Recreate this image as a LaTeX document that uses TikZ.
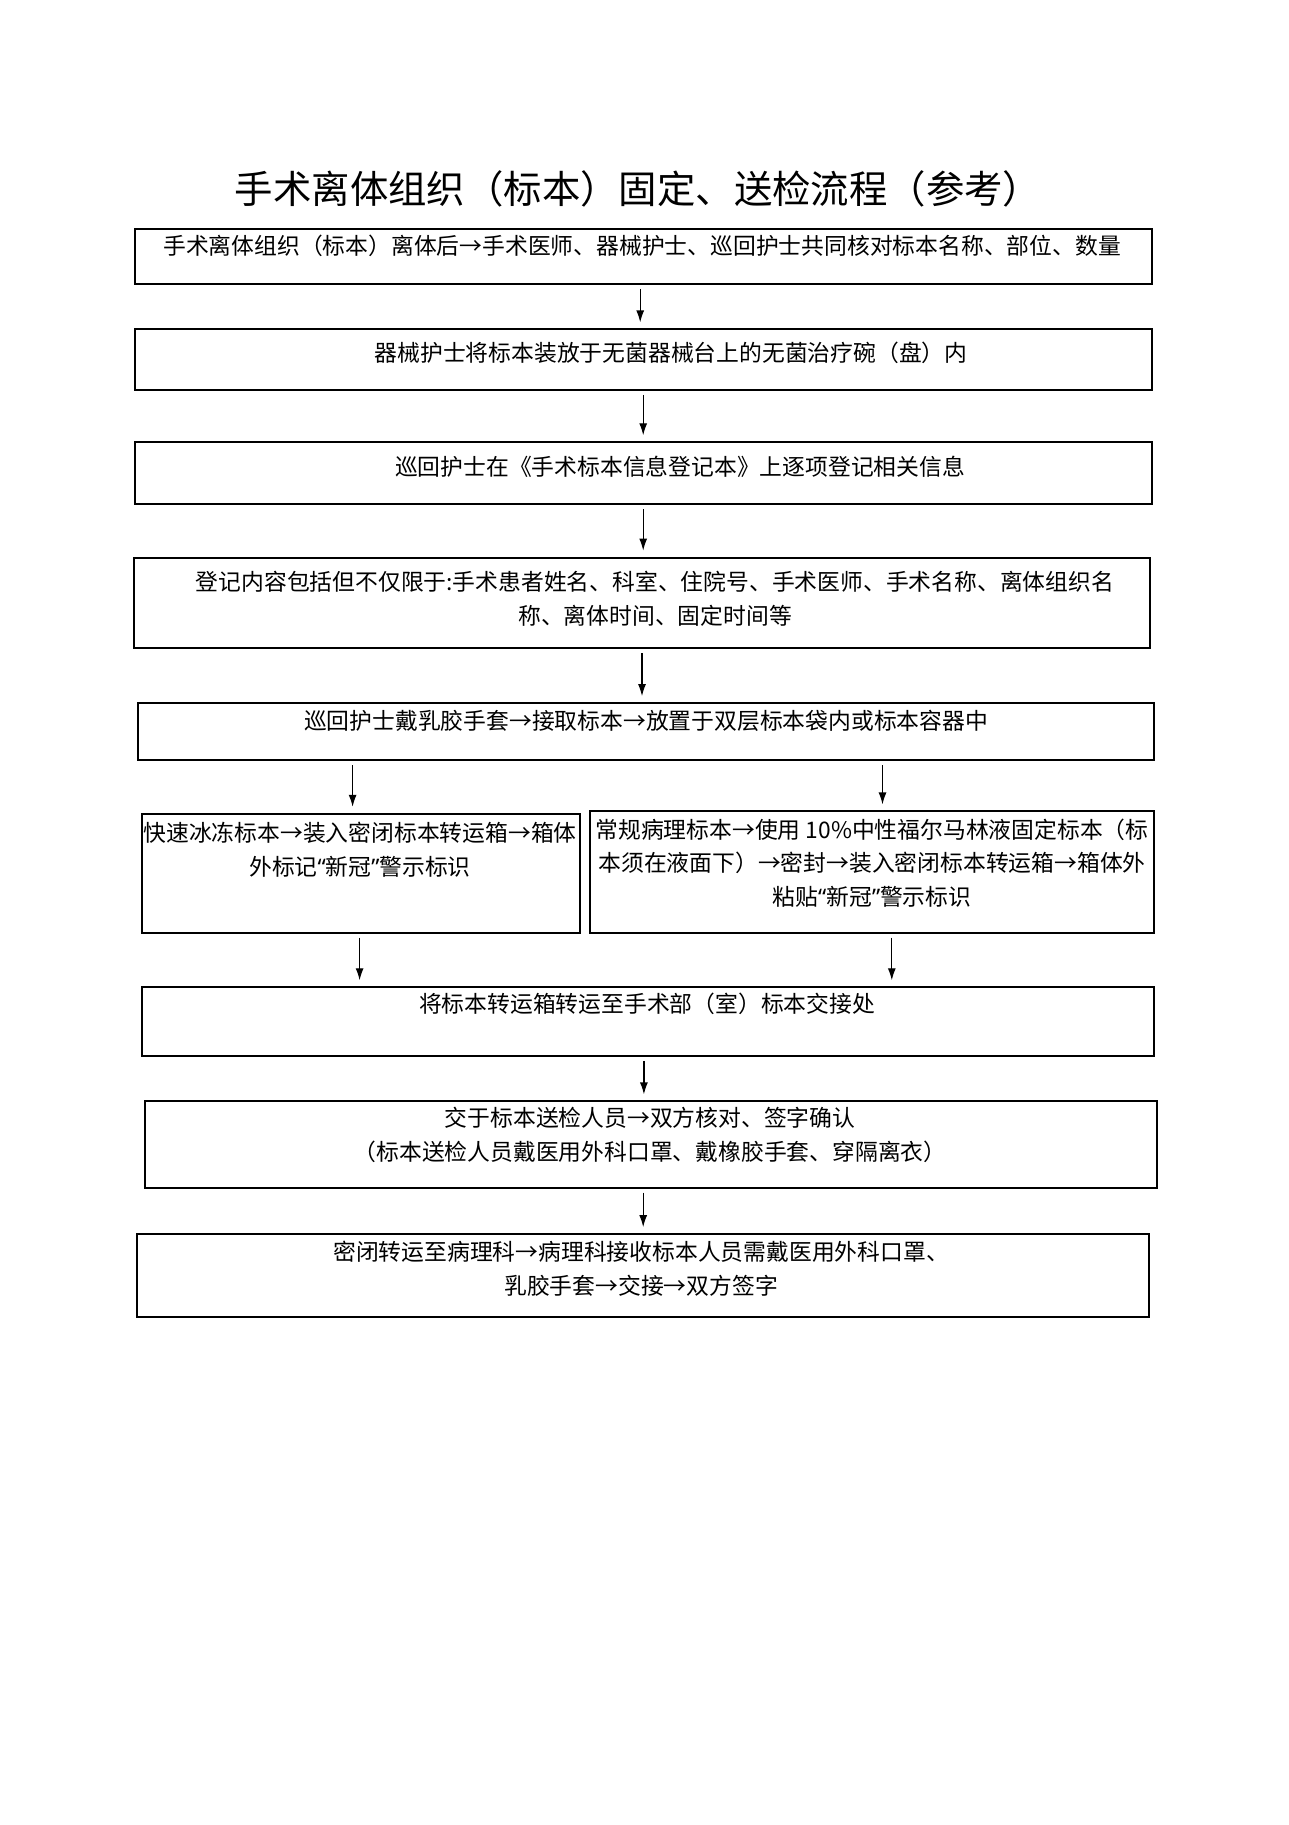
\documentclass[tikz,border=0pt]{standalone}
\usepackage{fontspec}
\setmainfont{Noto Sans CJK SC}
\newfontfamily\latinfont{Noto Sans}
\newcommand\quoted[1]{{\latinfont “}#1{\latinfont ”}}
\usetikzlibrary{arrows.meta,positioning}

\begin{document}
\begin{tikzpicture}[x=0.5pt,y=-0.5pt,
    box/.style={draw,line width=1pt,inner sep=0pt,anchor=north west},
    txt/.style={align=center,inner sep=0pt,font=\fontsize{11.4}{16.9}\selectfont},
    arr/.style={-{Latex[length=6pt,width=4pt]},line width=0.6pt,shorten <=2pt,shorten >=3pt}]
    \fill[white] (0,0) rectangle (1289,1825);
    \useasboundingbox (0,0) rectangle (1289,1825);

    % title
    \node[inner sep=0pt,font=\fontsize{19.2}{22}\selectfont] (title) at (638,189) {手术离体组织（标本）固定、送检流程（参考）};

    % boxes
    \node[box,minimum width=508.3pt,minimum height=27.35pt] (b1) at (133.9,228.2) {};
    \node[box,minimum width=508.3pt,minimum height=30.25pt] (b2) at (133.9,328.4) {};
    \node[box,minimum width=508.3pt,minimum height=30.85pt] (b3) at (133.9,441.3) {};
    \node[box,minimum width=508.3pt,minimum height=45.4pt] (b4) at (132.7,556.6) {};
    \node[box,minimum width=507.7pt,minimum height=28.55pt] (b5) at (137.4,702.1) {};
    \node[box,minimum width=218.9pt,minimum height=59.35pt] (b6a) at (140.9,812.8) {};
    \node[box,minimum width=281.8pt,minimum height=60.55pt] (b6b) at (589.2,810.4) {};
    \node[box,minimum width=506pt,minimum height=34.3pt] (b7) at (140.9,986.3) {};
    \node[box,minimum width=506pt,minimum height=43.05pt] (b8) at (144.4,1100.4) {};
    \node[box,minimum width=506pt,minimum height=41.35pt] (b9) at (136.2,1233.1) {};

    % texts
    \node[txt] (t1) at (642,246) {手术离体组织（标本）离体后→手术医师、器械护士、巡回护士共同核对标本名称、部位、数量};
    \node[txt] (t2) at (671,353) {器械护士将标本装放于无菌器械台上的无菌治疗碗（盘）内};
    \node[txt] (t3) at (680,467) {巡回护士在《手术标本信息登记本》上逐项登记相关信息};
    \node[txt] (t4) at (655,599) {登记内容包括但不仅限于:手术患者姓名、科室、住院号、手术医师、手术名称、离体组织名\\称、离体时间、固定时间等};
    \node[txt] (t5) at (646,721) {巡回护士戴乳胶手套→接取标本→放置于双层标本袋内或标本容器中};
    \node[txt] (t6a) at (360,849.5) {快速冰冻标本→装入密闭标本转运箱→箱体\\外标记\quoted{新冠}警示标识};
    \node[txt] (t6b) at (872,863) {常规病理标本→使用 10\%中性福尔马林液固定标本（标\\本须在液面下）→密封→装入密闭标本转运箱→箱体外\\粘贴\quoted{新冠}警示标识};
    \node[txt] (t7) at (647,1004) {将标本转运箱转运至手术部（室）标本交接处};
    \node[txt] (t8) at (650,1135) {交于标本送检人员→双方核对、签字确认\\（标本送检人员戴医用外科口罩、戴橡胶手套、穿隔离衣）};
    \node[txt] (t9) at (641,1269) {密闭转运至病理科→病理科接收标本人员需戴医用外科口罩、\\乳胶手套→交接→双方签字};

    % arrows
    \draw[arr] ([xshift=-1.5pt]b1.south) -- ([xshift=-1.5pt]b1.south |- b2.north);
    \draw[arr] (b2.south) -- (b2.south |- b3.north);
    \draw[arr] (b3.south) -- (b3.south |- b4.north);
    \draw[arr] (b4.south) -- (b4.south |- b5.north);
    \draw[arr] ([xshift=-4.1pt]b6a.north |- b5.south) -- ([xshift=-4.1pt]b6a.north);
    \draw[arr] ([xshift=5.25pt]b6b.north |- b5.south) -- ([xshift=5.25pt]b6b.north);
    \draw[arr] ([xshift=-0.6pt]b6a.south) -- ([xshift=-0.6pt]b6a.south |- b7.north);
    \draw[arr] ([xshift=9.9pt]b6b.south) -- ([xshift=9.9pt]b6b.south |- b7.north);
    \draw[arr] ([xshift=-2pt]b7.south) -- ([xshift=-2pt]b7.south |- b8.north);
    \draw[arr] (b8.south -| b9.north) -- (b9.north);
\end{tikzpicture}
\end{document}
